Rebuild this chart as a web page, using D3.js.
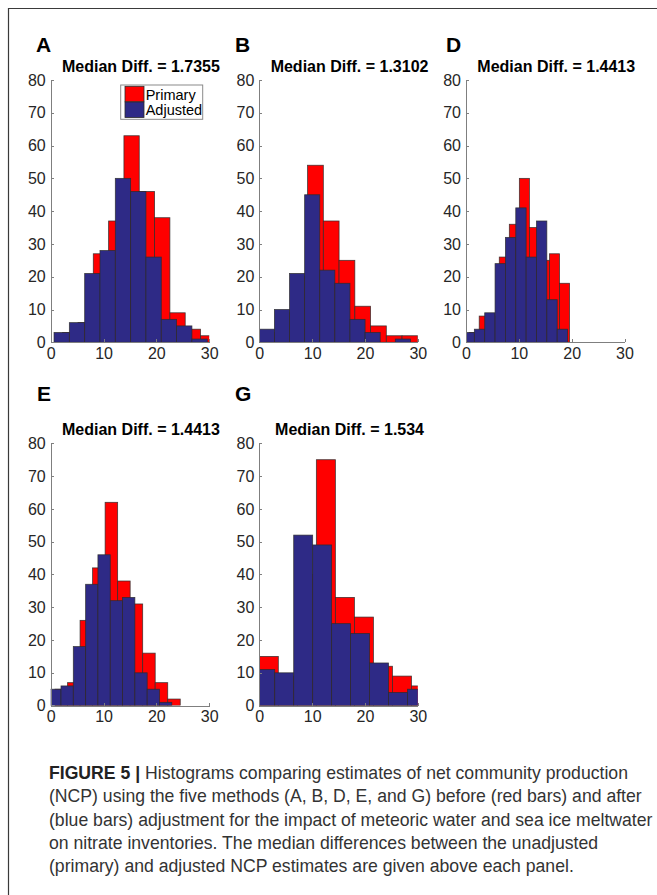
<!DOCTYPE html>
<html>
<head>
<meta charset="utf-8">
<script src="https://d3js.org/d3.v7.min.js"></script>
<style>
  body { margin: 0; background: #fff; }
  svg text { font-family: "Liberation Sans", Arial, Helvetica, sans-serif; }
  .axis path, .axis line { stroke: #7f7f7f; shape-rendering: crispEdges; }
  .axis text { fill: #262626; font-size: 16px; }
</style>
</head>
<body>
<svg width="657" height="895" id="figure"></svg>
<script>
// panels and their titles
var panelNames = ["A", "B", "D", "E", "G"];
var medianDiffs = ["1.7355", "1.3102", "1.4413", "1.4413", "1.534"];

// first bin edge and bin width of each histogram
var primaryStart = [2.26, 0.2, 0.6, 0.82, 0];
var primaryWidth = [2.9, 2.98, 1.9, 2.37, 3.6];
var adjustedStart = [0.63, 0, -0.38, -0.38, -0.67];
var adjustedWidth = [2.9, 2.86, 1.96, 2.33, 3.59];

// counts, primary (red) estimates
var primaryA = [3, 6, 27, 37, 63, 46, 38, 9, 4, 2];
var primaryB = [3, 9, 20, 54, 37, 25, 11, 5, 2, 2];
var primaryD = [3, 8, 8, 26, 36, 50, 35, 25, 27, 18];
var primaryE = [5, 7, 26, 42, 62, 38, 31, 16, 7, 2];
var primaryG = [15, 9, 40, 75, 33, 27, 12, 9, 6];

// counts, adjusted (blue) estimates
var adjustedA = [3, 6, 21, 28, 50, 46, 26, 7, 5, 1];
var adjustedB = [4, 10, 21, 45, 22, 18, 7, 3, 0, 1];
var adjustedD = [3, 4, 9, 24, 32, 41, 26, 37, 13, 4];
var adjustedE = [5, 6, 18, 37, 46, 32, 33, 10, 5, 1];
var adjustedG = [11, 10, 52, 49, 25, 22, 13, 4, 5];

var xTicks = [0, 10, 20, 30];
var yTicks = [0, 10, 20, 30, 40, 50, 60, 70, 80];
var legendLabels = ["Primary", "Adjusted"];

var captionLines = [
  "Histograms comparing estimates of net community production",
  "(NCP) using the five methods (A, B, D, E, and G) before (red bars) and after",
  "(blue bars) adjustment for the impact of meteoric water and sea ice meltwater",
  "on nitrate inventories. The median differences between the unadjusted",
  "(primary) and adjusted NCP estimates are given above each panel."
];

var primaryCounts = [primaryA, primaryB, primaryD, primaryE, primaryG];
var adjustedCounts = [adjustedA, adjustedB, adjustedD, adjustedE, adjustedG];

// layout of the axes on the page
var colLeft = [50.7, 259.3, 466];
var axW = 158.5;
var rowTop = [80, 443.3];
var axH = 262.3;
var panelCol = [0, 1, 2, 0, 1];
var panelRow = [0, 0, 0, 1, 1];
var letterPos = [[36, 51.5], [235, 51.5], [446, 51.5], [37, 400.5], [235, 400.5]];

var red = "#ff0000", blue = "#2e2a86";

const svg = d3.select("#figure");

// outer frame of the figure (runs off the right and bottom)
svg.append("path")
  .attr("d", "M8.5,895 L8.5,8.5 L657,8.5")
  .attr("fill", "none")
  .attr("stroke", "#3a3a3a")
  .attr("stroke-width", 1.2);

panelNames.forEach(function(name, p) {
  var left = colLeft[panelCol[p]], top = rowTop[panelRow[p]];
  var x = d3.scaleLinear().domain([0, 30]).range([0, axW]);
  var y = d3.scaleLinear().domain([0, 80]).range([axH, 0]);

  var g = svg.append("g").attr("transform", "translate(" + left + "," + top + ")");

  svg.append("defs").append("clipPath").attr("id", "clip-" + name)
    .append("rect").attr("x", 0).attr("y", 0).attr("width", axW).attr("height", axH);

  var bars = g.append("g").attr("clip-path", "url(#clip-" + name + ")");

  function drawHist(counts, start, w, color) {
    bars.append("g").selectAll("rect")
      .data(counts)
      .enter()
      .append("rect")
      .attr("x", (d, i) => x(start + i * w))
      .attr("width", x(w) - x(0))
      .attr("y", d => y(d))
      .attr("height", d => y(0) - y(d))
      .attr("fill", color)
      .attr("stroke", "#2b2b2b")
      .attr("stroke-opacity", d => d > 0 ? 0.85 : 0)
      .attr("stroke-width", 0.8);
  }
  drawHist(primaryCounts[p], primaryStart[p], primaryWidth[p], red);
  drawHist(adjustedCounts[p], adjustedStart[p], adjustedWidth[p], blue);

  g.append("g").attr("class", "axis")
    .call(d3.axisLeft(y).tickValues(yTicks).tickSizeInner(-3).tickSizeOuter(0).tickPadding(5));
  g.append("g").attr("class", "axis")
    .attr("transform", "translate(0," + axH + ")")
    .call(d3.axisBottom(x).tickValues(xTicks).tickSizeInner(-3).tickSizeOuter(0).tickPadding(5));

  g.append("text")
    .text("Median Diff. = " + medianDiffs[p])
    .attr("x", axW / 2 + 11)
    .attr("y", -8.5)
    .attr("text-anchor", "middle")
    .attr("font-size", 16)
    .attr("font-weight", "bold")
    .attr("fill", "#000");

  svg.append("text")
    .text(name)
    .attr("x", letterPos[p][0])
    .attr("y", letterPos[p][1])
    .attr("font-size", 21)
    .attr("font-weight", "bold")
    .attr("fill", "#000");

  // legend only in the first panel
  if (p == 0) {
    var lg = g.append("g").attr("transform", "translate(" + (120.7 - left) + "," + (85 - top) + ")");
    lg.append("rect")
      .attr("x", 0).attr("y", 0).attr("width", 82).attr("height", 34.3)
      .attr("fill", "#fff").attr("stroke", "#8a8a8a").attr("stroke-width", 1);
    legendLabels.forEach(function(lab, i) {
      lg.append("rect")
        .attr("x", 4.3).attr("y", 1.3 + i * 15.7)
        .attr("width", 19).attr("height", 15.5)
        .attr("fill", i == 0 ? red : blue)
        .attr("stroke", "#2b2b2b").attr("stroke-width", 0.8);
      lg.append("text")
        .text(lab)
        .attr("x", 25).attr("y", 14.5 + i * 15.7)
        .attr("font-size", 14.5)
        .attr("fill", "#000");
    });
  }
});

// caption
var cap = svg.append("g").attr("fill", "#333");
var capSize = 17;
var capText = cap.selectAll("text")
  .data(captionLines)
  .enter()
  .append("text")
  .attr("x", 49)
  .attr("y", (d, i) => 779 + i * 23.3)
  .attr("font-size", capSize);
capText.each(function(d, i) {
  var t = d3.select(this);
  if (i == 0) {
    t.append("tspan").attr("font-weight", "bold").attr("fill", "#222").text("FIGURE 5 |");
    t.append("tspan").text(" " + d);
  } else {
    t.text(d);
  }
});
// fit the font size to the measured width of the longest line
var w3 = capText.nodes()[2].getComputedTextLength();
capSize = capSize * 604 / w3;
capText.attr("font-size", capSize);
</script>
</body>
</html>
